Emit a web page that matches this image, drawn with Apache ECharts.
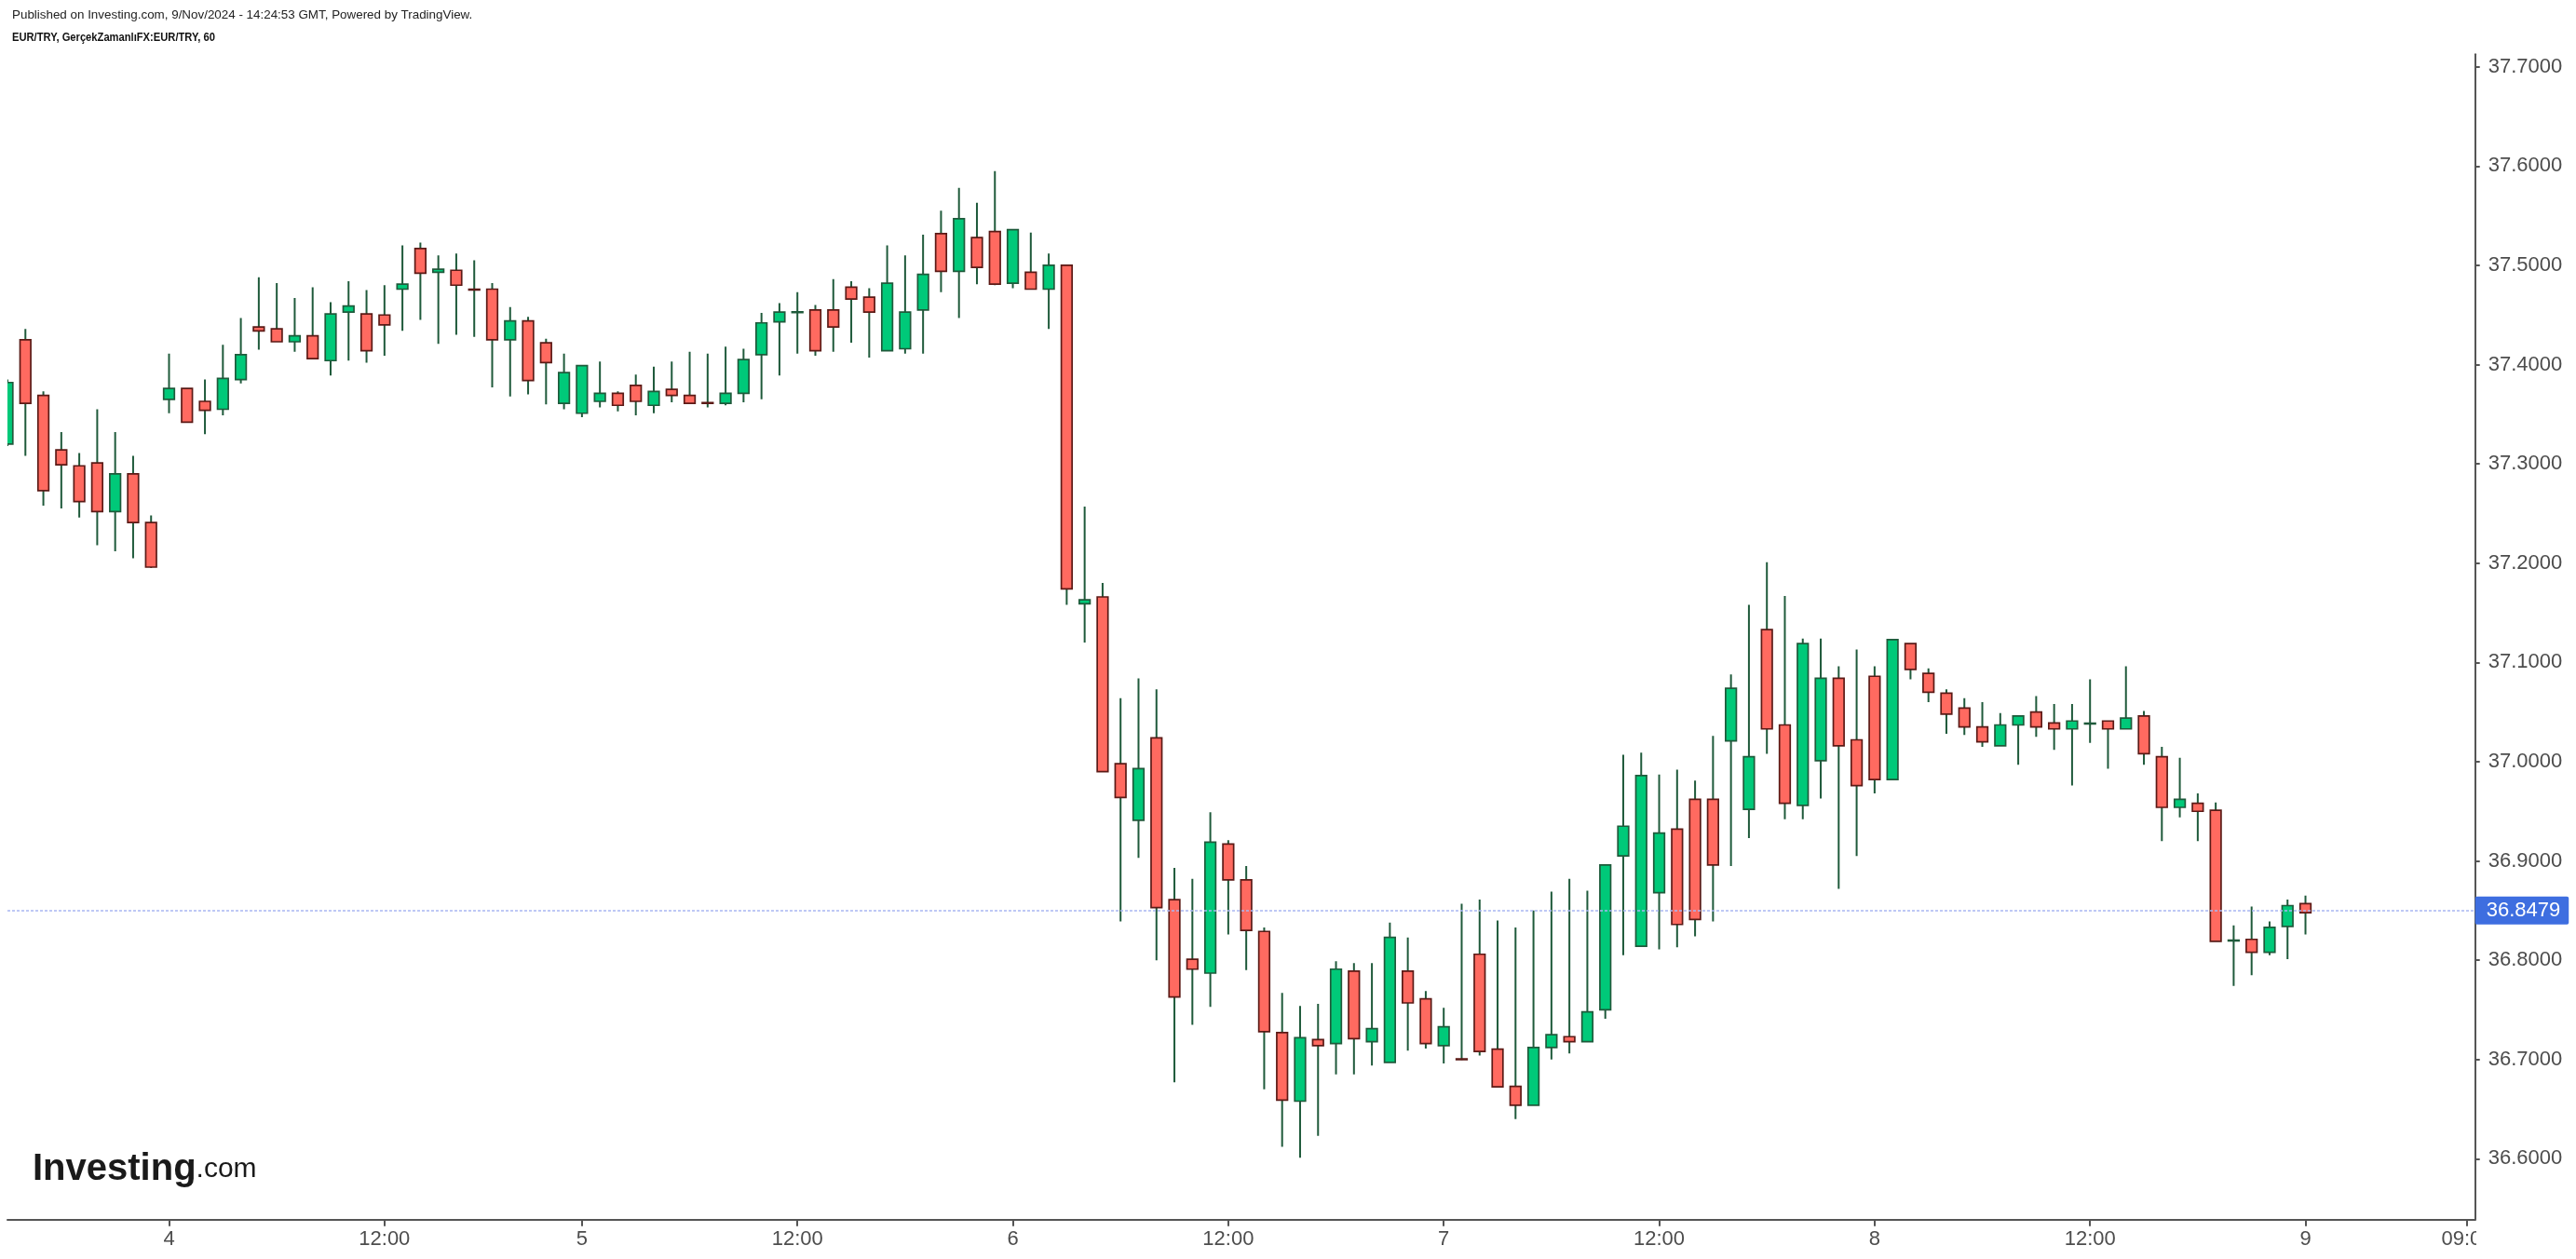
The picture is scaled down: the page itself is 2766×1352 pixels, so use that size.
<!DOCTYPE html>
<html><head><meta charset="utf-8">
<script src="https://cdn.jsdelivr.net/npm/echarts@6.0.0/dist/echarts.min.js"></script>
<style>html,body{margin:0;padding:0;background:#fff}#c{width:2766px;height:1352px}</style>
</head><body><div id="c"></div>
<script>
const opens = [37.320,37.425,37.369,37.314,37.298,37.301,37.252,37.290,37.241,37.365,
37.376,37.363,37.355,37.385,37.438,37.436,37.423,37.429,37.404,37.453,
37.451,37.450,37.476,37.517,37.493,37.495,37.4760,37.476,37.425,37.444,
37.422,37.361,37.351,37.363,37.371,37.379,37.359,37.375,37.369,37.3616,
37.361,37.371,37.410,37.443,37.4528,37.455,37.455,37.478,37.468,37.414,
37.416,37.455,37.532,37.494,37.528,37.534,37.482,37.493,37.476,37.500,
37.159,37.166,36.998,36.941,37.024,36.861,36.801,36.787,36.917,36.881,
36.829,36.727,36.658,36.720,36.716,36.789,36.718,36.697,36.789,36.761,
36.714,36.7006,36.806,36.7105,36.673,36.654,36.712,36.723,36.718,36.750,
36.905,36.814,36.868,36.932,36.962,36.962,37.021,36.952,37.133,37.037,
36.956,37.001,37.084,37.022,37.086,36.982,37.119,37.089,37.069,37.054,
37.035,37.016,37.037,37.050,37.039,37.033,37.0385,37.041,37.033,37.046,
37.005,36.954,36.958,36.951,36.8199,36.821,36.808,36.834,36.857];
const closes = [37.382,37.361,37.273,37.299,37.262,37.252,37.290,37.241,37.196,37.376,
37.342,37.354,37.386,37.410,37.434,37.423,37.429,37.406,37.451,37.459,
37.414,37.440,37.481,37.492,37.496,37.480,37.4756,37.425,37.444,37.384,
37.402,37.392,37.399,37.371,37.359,37.363,37.373,37.369,37.361,37.3612,
37.371,37.405,37.442,37.453,37.4532,37.414,37.438,37.466,37.453,37.482,
37.453,37.491,37.494,37.547,37.498,37.481,37.536,37.476,37.500,37.174,
37.163,36.990,36.964,36.993,36.853,36.763,36.791,36.919,36.881,36.830,
36.728,36.659,36.722,36.714,36.791,36.721,36.731,36.823,36.757,36.716,
36.733,36.6998,36.708,36.6725,36.654,36.712,36.725,36.718,36.748,36.896,
36.935,36.986,36.928,36.836,36.841,36.896,37.074,37.005,37.033,36.958,
37.119,37.084,37.016,36.976,36.982,37.123,37.093,37.070,37.048,37.035,
37.020,37.037,37.046,37.035,37.033,37.041,37.0389,37.033,37.044,37.008,
36.954,36.962,36.950,36.819,36.8203,36.808,36.833,36.855,36.8479];
const lows = [37.318,37.308,37.258,37.255,37.246,37.218,37.212,37.205,37.195,37.351,
37.342,37.330,37.349,37.381,37.415,37.423,37.413,37.406,37.389,37.404,
37.402,37.409,37.434,37.445,37.421,37.430,37.428,37.377,37.368,37.370,
37.360,37.355,37.347,37.357,37.353,37.349,37.351,37.362,37.361,37.357,
37.359,37.362,37.365,37.389,37.411,37.409,37.413,37.422,37.407,37.414,
37.411,37.411,37.473,37.447,37.481,37.480,37.477,37.476,37.436,37.158,
37.120,36.990,36.839,36.903,36.800,36.677,36.735,36.753,36.826,36.790,
36.670,36.612,36.601,36.623,36.685,36.685,36.694,36.697,36.709,36.711,
36.696,36.6995,36.704,36.6725,36.640,36.654,36.700,36.706,36.718,36.741,
36.805,36.814,36.811,36.813,36.824,36.839,36.895,36.923,37.008,36.942,
36.942,36.963,36.872,36.905,36.968,36.982,37.083,37.060,37.028,37.027,
37.015,37.016,36.997,37.025,37.012,36.976,37.019,36.993,37.033,36.997,
36.920,36.944,36.920,36.819,36.774,36.785,36.805,36.801,36.826];
const highs = [37.385,37.436,37.373,37.332,37.311,37.355,37.332,37.308,37.248,37.411,
37.376,37.385,37.420,37.447,37.488,37.482,37.467,37.478,37.463,37.484,
37.475,37.480,37.520,37.523,37.510,37.512,37.505,37.482,37.458,37.448,
37.426,37.411,37.399,37.403,37.373,37.390,37.398,37.403,37.413,37.411,
37.418,37.416,37.452,37.462,37.473,37.460,37.486,37.484,37.477,37.520,
37.510,37.531,37.555,37.578,37.563,37.595,37.536,37.533,37.512,37.500,
37.257,37.180,37.064,37.084,37.073,36.893,36.882,36.949,36.921,36.895,
36.833,36.767,36.754,36.756,36.799,36.797,36.797,36.838,36.823,36.769,
36.752,36.857,36.861,36.840,36.833,36.850,36.869,36.882,36.870,36.896,
37.007,37.009,36.987,36.992,36.981,37.026,37.088,37.158,37.201,37.167,
37.124,37.124,37.096,37.113,37.096,37.123,37.119,37.094,37.073,37.064,
37.060,37.049,37.046,37.066,37.058,37.058,37.083,37.041,37.096,37.051,
37.015,37.004,36.968,36.959,36.835,36.854,36.839,36.861,36.865];
const xTickBars = [9,21,32,44,56,68,80,92,104,116,128,137];
const xTickLabels = ['4','12:00','5','12:00','6','12:00','7','12:00','8','12:00','9','09:00'];
const yTicks = [36.6,36.7,36.8,36.9,37.0,37.1,37.2,37.3,37.4,37.5,37.6,37.7];
const lastPrice = 36.8479;
const headerLine1 = 'Published on Investing.com, 9/Nov/2024 - 14:24:53 GMT, Powered by TradingView.';
const headerLine2 = 'EUR/TRY, GerçekZamanlıFX:EUR/TRY, 60';

const WICK = '#1f5a3b', UP = '#00c979', UPB = '#1f5a3b', DN = '#ff6a60', DNB = '#5b1a16';
const FONT = '"Liberation Sans", Arial, sans-serif';
const chart = echarts.init(document.getElementById('c'), null, {renderer: 'canvas'});
const data = opens.map((o, i) => [i, o, closes[i], lows[i], highs[i]]);

chart.setOption({
  animation: false,
  backgroundColor: '#ffffff',
  grid: {left: 8, right: 108.3, top: 58.3, bottom: 42.3, containLabel: false},
  xAxis: {
    type: 'value', min: 0, max: 137.45,
    axisLine: {show: true, onZero: false, lineStyle: {color: '#555555', width: 2}},
    axisTick: {show: true, length: 7, lineStyle: {color: '#555555', width: 2}, customValues: xTickBars},
    axisLabel: {customValues: xTickBars, margin: 10, color: '#4d4d4d', fontSize: 22, fontFamily: FONT,
      formatter: v => { const k = xTickBars.indexOf(Math.round(v)); return k >= 0 ? xTickLabels[k] : ''; }},
    splitLine: {show: false}
  },
  yAxis: {
    type: 'value', position: 'right', min: 36.5387, max: 37.7126,
    axisLine: {show: true, onZero: false, lineStyle: {color: '#555555', width: 2}},
    axisTick: {show: true, length: 5, lineStyle: {color: '#555555', width: 2}, customValues: yTicks},
    axisLabel: {customValues: yTicks, margin: 14, color: '#4d4d4d', fontSize: 22, fontFamily: FONT,
      formatter: v => v.toFixed(4)},
    splitLine: {show: false}
  },
  series: [{
    type: 'custom',
    clip: true,
    data: data,
    encode: {x: 0, y: [1, 2, 3, 4]},
    renderItem: (params, api) => {
      const i = api.value(0), o = api.value(1), c = api.value(2), l = api.value(3), h = api.value(4);
      const pH = api.coord([i, h]), pL = api.coord([i, l]);
      const pO = api.coord([i, o]), pC = api.coord([i, c]);
      const up = c >= o;
      const bw = api.size([1, 0])[0] * 0.6;
      const top = Math.min(pO[1], pC[1]), bot = Math.max(pO[1], pC[1]);
      return {type: 'group', children: [
        {type: 'line', shape: {x1: pH[0], y1: pH[1], x2: pL[0], y2: pL[1]}, style: {stroke: WICK, lineWidth: 2}},
        {type: 'rect', shape: {x: pO[0] - bw / 2, y: top, width: bw, height: Math.max(bot - top, 0.8)},
          style: {fill: up ? UP : DN, stroke: up ? UPB : DNB, lineWidth: 1.7}}
      ]};
    },
    markLine: {
      silent: true, symbol: 'none', animation: false,
      lineStyle: {color: '#a9b7f2', width: 1.5, type: [3, 2]},
      label: {position: 'end', distance: 0, formatter: () => lastPrice.toFixed(4),
        backgroundColor: '#3e6ee0', color: '#ffffff', fontSize: 22, fontFamily: FONT,
        padding: [4, 9, 4, 12], borderRadius: 2},
      data: [{yAxis: lastPrice}]
    }
  }],
  graphic: [
    {type: 'rect', z: 100, shape: {x: 2659, y: 1312, width: 107, height: 40}, style: {fill: '#ffffff'}},
    {type: 'text', x: 13, y: 10, z: 100, style: {text: headerLine1, font: '13.4px "Liberation Sans", Arial', fill: '#222222'}},
    {type: 'text', x: 13, y: 34, z: 100, scaleX: 0.86, style: {text: headerLine2, font: 'bold 13px "Liberation Sans", Arial', fill: '#111111'}},
    {type: 'text', x: 35, y: 1236, z: 100, style: {
      text: '{a|Investing}{b|.com}',
      rich: {
        a: {font: 'bold 40px "Liberation Sans", Arial', fill: '#1a1a1a'},
        b: {font: '30px "Liberation Sans", Arial', fill: '#1a1a1a'}
      }}}
  ]
});
</script></body></html>
